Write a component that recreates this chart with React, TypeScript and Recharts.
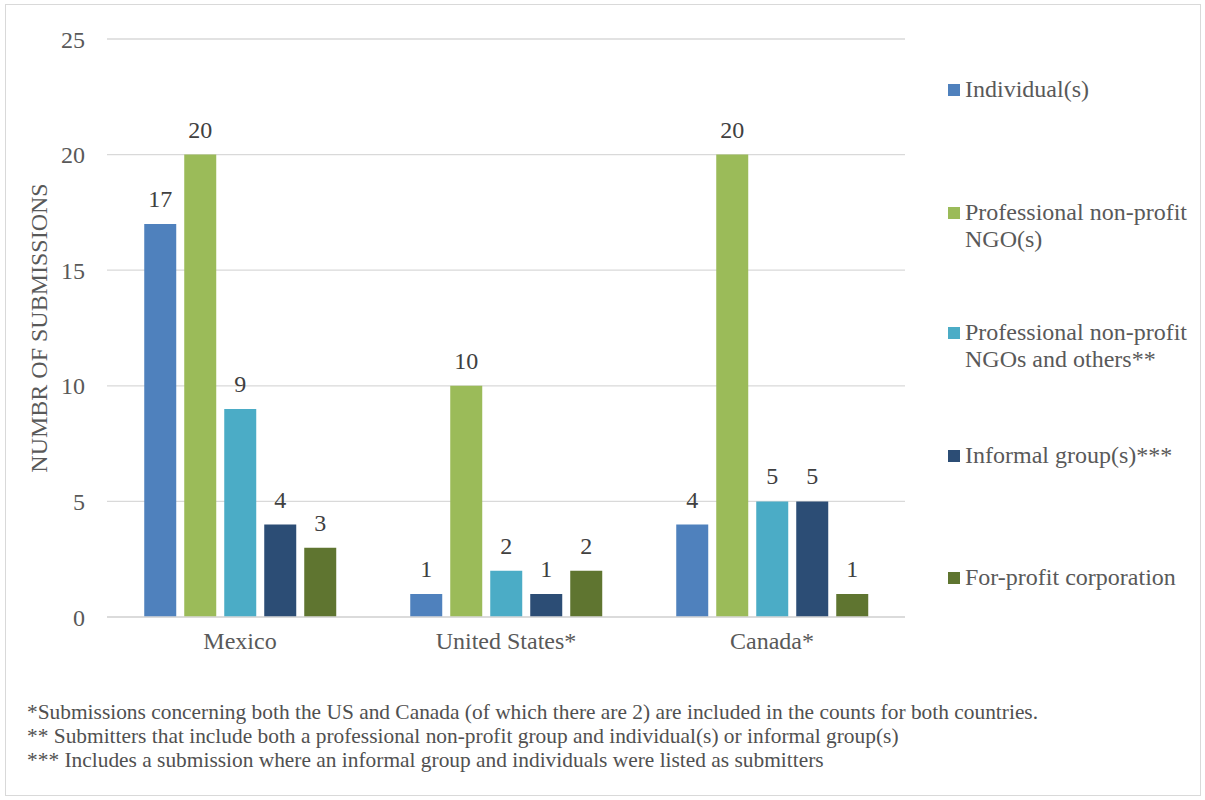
import { BarChart, Bar, XAxis, YAxis, CartesianGrid, LabelList, Label } from "recharts";

const countries = ["Mexico", "United States*", "Canada*"];
const individuals = [17, 1, 4];
const ngos = [20, 10, 20];
const ngosAndOthers = [9, 2, 5];
const informalGroups = [4, 1, 5];
const forProfit = [3, 2, 1];
const yTicks = [0, 5, 10, 15, 20, 25];

const seriesNames = [
  "Individual(s)",
  "Professional non-profit NGO(s)",
  "Professional non-profit NGOs and others**",
  "Informal group(s)***",
  "For-profit corporation",
];
const legendLines = [
  ["Individual(s)"],
  ["Professional non-profit", "NGO(s)"],
  ["Professional non-profit", "NGOs and others**"],
  ["Informal group(s)***"],
  ["For-profit corporation"],
];
const colors = ["#4F81BD", "#9BBB59", "#4BACC6", "#2C4D75", "#5F7530"];
const keys = ["ind", "ngo", "ngoOthers", "informal", "forProfit"];

const footnotes = [
  "*Submissions concerning both the US and Canada (of which there are 2) are included in the counts for both countries.",
  "** Submitters that include both a professional non-profit group and individual(s) or informal group(s)",
  "*** Includes a submission where an informal group and individuals were listed as submitters",
];

const data = countries.map((c, i) => ({
  country: c,
  ind: individuals[i],
  ngo: ngos[i],
  ngoOthers: ngosAndOthers[i],
  informal: informalGroups[i],
  forProfit: forProfit[i],
}));

const FONT = "Liberation Serif";
const legendTops = [76, 199, 319, 442, 564];

export default function App() {
  return (
    <div
      style={{
        position: "absolute",
        left: 0,
        top: 0,
        width: 1205,
        height: 800,
        background: "#fff",
        fontFamily: FONT,
      }}
    >
      <div
        style={{
          position: "absolute",
          left: 5,
          top: 4,
          width: 1194,
          height: 790,
          border: "1px solid #d9d9d9",
        }}
      />
      <div style={{ position: "absolute", left: 0, top: 0 }}>
        <BarChart
          width={1205}
          height={680}
          data={data}
          margin={{ top: 39, right: 300, bottom: 23, left: 47 }}
          barGap={8}
          barCategoryGap="14%"
        >
          <CartesianGrid vertical={false} stroke="#d9d9d9" strokeWidth={1.3} />
          <XAxis
            dataKey="country"
            height={40}
            tickLine={false}
            axisLine={{ stroke: "#d9d9d9", strokeWidth: 1.3 }}
            tickMargin={9}
            tick={{ fontSize: 24, fill: "#595959", fontFamily: FONT }}
          />
          <YAxis
            width={60}
            domain={[0, 25]}
            ticks={yTicks}
            tickLine={false}
            axisLine={false}
            tickMargin={16}
            tick={{ fontSize: 24, fill: "#595959", fontFamily: FONT }}
          >
            <Label
              content={({ viewBox }: any) => {
                const cx = 39;
                const cy = viewBox ? viewBox.y + viewBox.height / 2 : 328;
                return (
                  <text
                    x={cx}
                    y={cy}
                    transform={`rotate(-90 ${cx} ${cy})`}
                    textAnchor="middle"
                    dominantBaseline="central"
                    fontSize={24}
                    fill="#595959"
                    fontFamily={FONT}
                  >
                    NUMBR OF SUBMISSIONS
                  </text>
                );
              }}
            />
          </YAxis>
          {keys.map((k, i) => (
            <Bar key={k} dataKey={k} name={seriesNames[i]} fill={colors[i]} isAnimationActive={false}>
              <LabelList
                dataKey={k}
                position="top"
                offset={17}
                style={{ fontSize: 24, fill: "#404040", fontFamily: FONT }}
              />
            </Bar>
          ))}
        </BarChart>
      </div>
      {legendLines.map((lines, i) => (
        <div
          key={i}
          style={{
            position: "absolute",
            left: 948,
            top: legendTops[i],
            display: "flex",
            alignItems: "flex-start",
            fontSize: 24,
            lineHeight: "27px",
            color: "#595959",
            whiteSpace: "nowrap",
          }}
        >
          <div
            style={{
              width: 12,
              height: 12,
              background: colors[i],
              marginTop: 8,
              marginRight: 5,
              flexShrink: 0,
            }}
          />
          <div>
            {lines.map((l, j) => (
              <div key={j}>{l}</div>
            ))}
          </div>
        </div>
      ))}
      <div
        style={{
          position: "absolute",
          left: 27,
          top: 700,
          fontSize: 21.4,
          lineHeight: "24px",
          color: "#505050",
          whiteSpace: "nowrap",
        }}
      >
        {footnotes.map((f, i) => (
          <div key={i}>{f}</div>
        ))}
      </div>
    </div>
  );
}
